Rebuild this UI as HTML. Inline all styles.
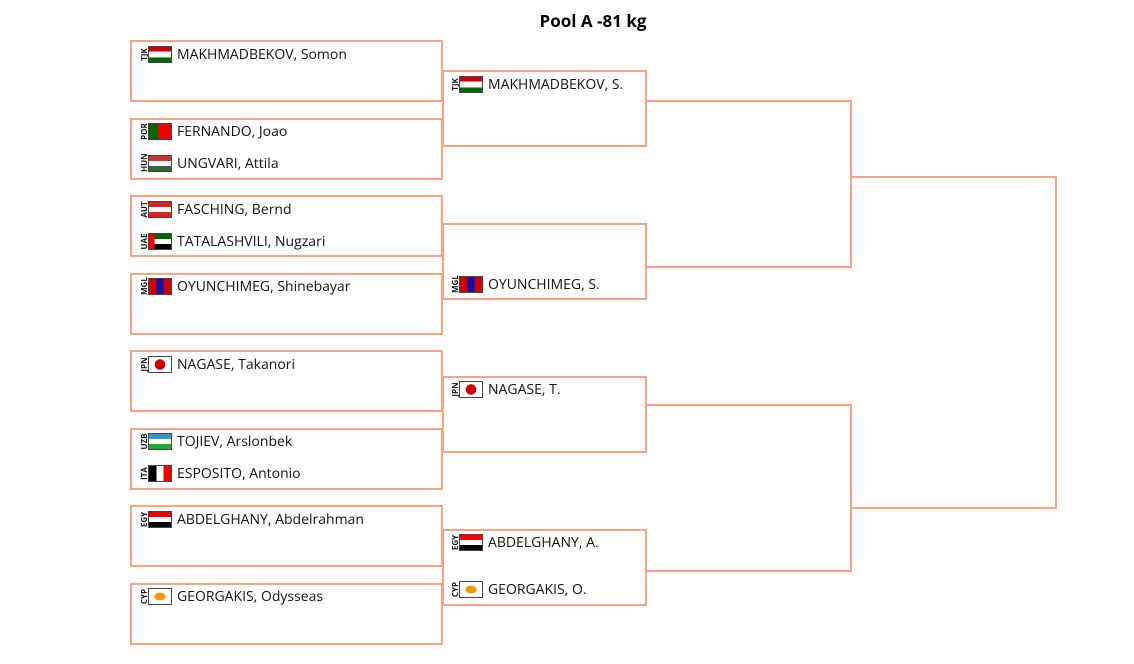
<!DOCTYPE html>
<html><head><meta charset="utf-8"><style>
body{margin:0;width:1134px;height:664px;background:#fff;position:relative;font-family:"Open Sans","Liberation Sans",sans-serif;overflow:hidden}
.b{position:absolute;border:2px solid #f7a586;box-sizing:border-box}
.o{border-left:none}
.e{position:absolute;height:17px;font-size:14px;color:#111;line-height:17px;white-space:nowrap}
.e .c{position:absolute;left:-4px;top:4px;font-size:8px;transform:rotate(-90deg);width:17px;text-align:center;line-height:9px;font-weight:bold}
.e .f{position:absolute;left:8px;top:0;width:24px;height:17px;box-sizing:border-box;border:1px solid #444}
.e .n{position:absolute;left:37px;top:0}
h1{position:absolute;top:9px;left:0;width:1186px;text-align:center;font-size:17px;margin:0;font-weight:bold}
</style></head><body>
<h1>Pool A -81 kg</h1>
<div class="b" style="left:130px;top:40px;width:313px;height:62px"></div>
<div class="b" style="left:130px;top:118px;width:313px;height:62px"></div>
<div class="b" style="left:130px;top:195px;width:313px;height:62px"></div>
<div class="b" style="left:130px;top:273px;width:313px;height:62px"></div>
<div class="b" style="left:130px;top:350px;width:313px;height:62px"></div>
<div class="b" style="left:130px;top:428px;width:313px;height:62px"></div>
<div class="b" style="left:130px;top:505px;width:313px;height:62px"></div>
<div class="b" style="left:130px;top:583px;width:313px;height:62px"></div>
<div class="b" style="left:442px;top:70px;width:205px;height:77px"></div>
<div class="b" style="left:442px;top:223px;width:205px;height:77px"></div>
<div class="b" style="left:442px;top:376px;width:205px;height:77px"></div>
<div class="b" style="left:442px;top:529px;width:205px;height:77px"></div>
<div class="b o" style="left:646px;top:100px;width:206px;height:168px"></div>
<div class="b o" style="left:646px;top:404px;width:206px;height:168px"></div>
<div class="b o" style="left:851px;top:176px;width:206px;height:333px"></div>

<div class="e" style="left:140px;top:46px"><span class="c">TJK</span><span class="f" style="background:linear-gradient(#c00 0 30%,#fff 30% 70%,#060 70%)"></span><span class="n">MAKHMADBEKOV, Somon</span></div>
<div class="e" style="left:140px;top:123px"><span class="c">POR</span><span class="f" style="background:linear-gradient(90deg,#060 40%,#e00 40%)"></span><span class="n">FERNANDO, Joao</span></div>
<div class="e" style="left:140px;top:155px"><span class="c">HUN</span><span class="f" style="background:linear-gradient(#c33 0 33%,#fff 33% 66%,#363 66%)"></span><span class="n">UNGVARI, Attila</span></div>
<div class="e" style="left:140px;top:201px"><span class="c">AUT</span><span class="f" style="background:linear-gradient(#d22 0 33%,#fff 33% 66%,#d22 66%)"></span><span class="n">FASCHING, Bernd</span></div>
<div class="e" style="left:140px;top:233px"><span class="c">UAE</span><span class="f" style="background:linear-gradient(90deg,#e00 25%,transparent 25%),linear-gradient(#060 0 33%,#fff 33% 66%,#000 66%)"></span><span class="n">TATALASHVILI, Nugzari</span></div>
<div class="e" style="left:140px;top:278px"><span class="c">MGL</span><span class="f" style="background:linear-gradient(90deg,#c00 33%,#11a 33% 66%,#c00 66%)"></span><span class="n">OYUNCHIMEG, Shinebayar</span></div>
<div class="e" style="left:140px;top:356px"><span class="c">JPN</span><span class="f" style="background:radial-gradient(circle,#c00 0 5px,#fff 5.5px)"></span><span class="n">NAGASE, Takanori</span></div>
<div class="e" style="left:140px;top:433px"><span class="c">UZB</span><span class="f" style="background:linear-gradient(#39c 0 33%,#fff 33% 66%,#2a3 66%)"></span><span class="n">TOJIEV, Arslonbek</span></div>
<div class="e" style="left:140px;top:465px"><span class="c">ITA</span><span class="f" style="background:linear-gradient(90deg,#000 0 33%,#fff 33% 66%,#e00 66%)"></span><span class="n">ESPOSITO, Antonio</span></div>
<div class="e" style="left:140px;top:511px"><span class="c">EGY</span><span class="f" style="background:linear-gradient(#e00 0 33%,#fff 33% 66%,#000 66%)"></span><span class="n">ABDELGHANY, Abdelrahman</span></div>
<div class="e" style="left:140px;top:588px"><span class="c">CYP</span><span class="f" style="background:radial-gradient(ellipse 6px 4px,#e90 0 90%,#fff 100%)"></span><span class="n">GEORGAKIS, Odysseas</span></div>

<div class="e" style="left:451px;top:76px"><span class="c">TJK</span><span class="f" style="background:linear-gradient(#c00 0 30%,#fff 30% 70%,#060 70%)"></span><span class="n">MAKHMADBEKOV, S.</span></div>
<div class="e" style="left:451px;top:276px"><span class="c">MGL</span><span class="f" style="background:linear-gradient(90deg,#c00 33%,#11a 33% 66%,#c00 66%)"></span><span class="n">OYUNCHIMEG, S.</span></div>
<div class="e" style="left:451px;top:381px"><span class="c">JPN</span><span class="f" style="background:radial-gradient(circle,#c00 0 5px,#fff 5.5px)"></span><span class="n">NAGASE, T.</span></div>
<div class="e" style="left:451px;top:534px"><span class="c">EGY</span><span class="f" style="background:linear-gradient(#e00 0 33%,#fff 33% 66%,#000 66%)"></span><span class="n">ABDELGHANY, A.</span></div>
<div class="e" style="left:451px;top:581px"><span class="c">CYP</span><span class="f" style="background:radial-gradient(ellipse 6px 4px,#e90 0 90%,#fff 100%)"></span><span class="n">GEORGAKIS, O.</span></div>
</body></html>
